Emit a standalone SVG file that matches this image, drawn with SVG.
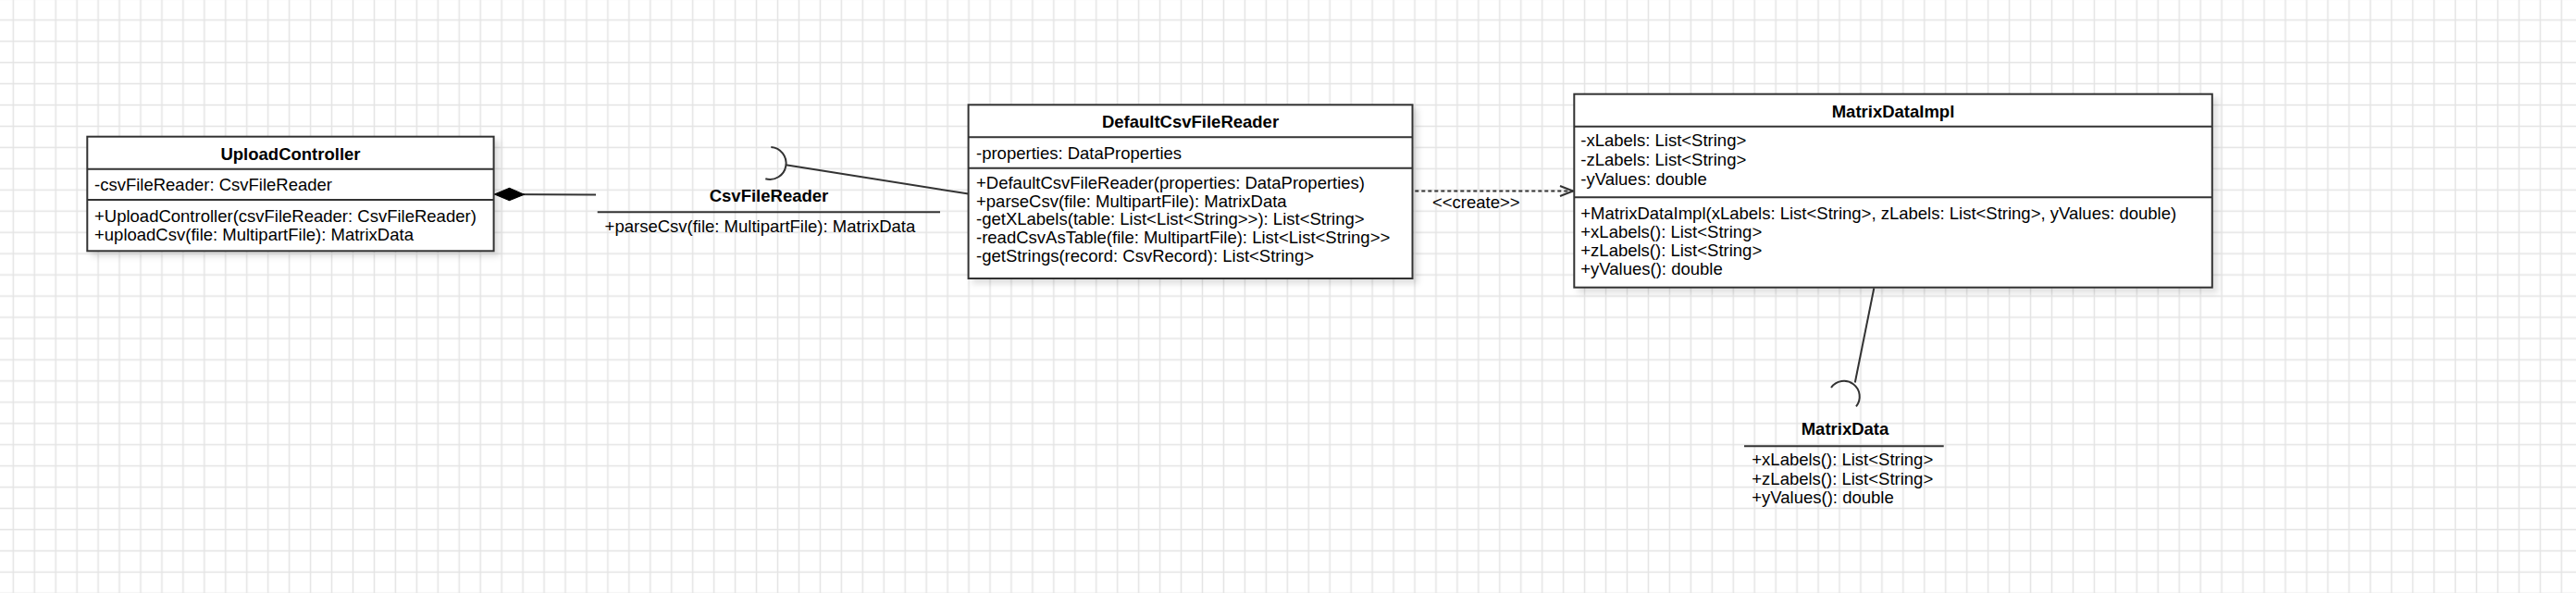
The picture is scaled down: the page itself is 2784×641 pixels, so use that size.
<svg xmlns="http://www.w3.org/2000/svg" width="2784" height="641" viewBox="0 0 2784 641">
<style>
  .t { font-family: "Liberation Sans", Arial, sans-serif; font-size: 18.5px; fill: #000; }
  .b { font-weight: bold; text-anchor: middle; }
  .box { fill: #fff; stroke: #333; stroke-width: 2; }
  .div { stroke: #333; stroke-width: 2; fill: none; }
  .ln { stroke: #333; stroke-width: 2; fill: none; }
</style>
<defs>
  <pattern id="grid" x="2.825" y="10.225" width="22.95" height="22.95" patternUnits="userSpaceOnUse">
    <path d="M11.475 0 V22.95 M0 11.475 H22.95" stroke="#e4e4e4" stroke-width="1.5" fill="none"/>
  </pattern>
  <filter id="sh" x="-5%" y="-5%" width="115%" height="125%">
    <feDropShadow dx="5" dy="5" stdDeviation="3" flood-color="#000" flood-opacity="0.12"/>
  </filter>
  <marker id="open" viewBox="0 0 16 14" refX="15" refY="7" markerWidth="16" markerHeight="14" markerUnits="userSpaceOnUse" orient="auto">
    <path d="M1 1.5 L15 7 L1 12.5" fill="none" stroke="#333" stroke-width="2"/>
  </marker>
  <marker id="diamond" viewBox="0 0 34 16" refX="1" refY="8" markerWidth="34" markerHeight="16" markerUnits="userSpaceOnUse" orient="auto">
    <path d="M1 8 L17 1.3 L33 8 L17 14.7 Z" fill="#000" stroke="#000" stroke-width="1"/>
  </marker>
</defs>
<rect x="0" y="0" width="2784" height="641" fill="#fff"/>
<rect x="0" y="0" width="2784" height="641" fill="url(#grid)"/>

<g id="connectors">
  <path class="ln" d="M534.5 210 L644 210.5" marker-start="url(#diamond)"/>
  <path class="ln" d="M849.3 178.3 L1046.6 209.5"/>
  <path class="ln" d="M833.3 159 A17.5 17.5 0 1 1 827.3 193.3"/>
  <path class="ln" d="M1529.3 206.5 L1700 206.5" stroke-dasharray="4 3" marker-end="url(#open)"/>
  <text class="t" x="1548" y="225">&lt;&lt;create&gt;&gt;</text>
  <path class="ln" d="M2025.3 311.5 L2004.8 413.5"/>
  <path class="ln" d="M1979 419 A16.9 16.9 0 1 1 2006 439.3"/>
</g>

<g id="UploadController">
  <rect class="box" x="94.3" y="147.7" width="439.3" height="123.6" filter="url(#sh)"/>
  <line class="div" x1="94.3" y1="182.7" x2="533.6" y2="182.7"/>
  <line class="div" x1="94.3" y1="216" x2="533.6" y2="216"/>
  <text class="t b" x="314" y="173.3">UploadController</text>
  <text class="t" x="102" y="206">-csvFileReader: CsvFileReader</text>
  <text class="t" x="102" y="240">+UploadController(csvFileReader: CsvFileReader)</text>
  <text class="t" x="102" y="259.5">+uploadCsv(file: MultipartFile): MatrixData</text>
</g>

<g id="CsvFileReader">
  <text class="t b" x="831" y="218.3">CsvFileReader</text>
  <line class="div" x1="645.7" y1="229.3" x2="1016" y2="229.3"/>
  <text class="t" x="653.6" y="251">+parseCsv(file: MultipartFile): MatrixData</text>
</g>

<g id="DefaultCsvFileReader">
  <rect class="box" x="1046.6" y="113.3" width="479.9" height="187.7" filter="url(#sh)"/>
  <line class="div" x1="1046.6" y1="148.3" x2="1526.5" y2="148.3"/>
  <line class="div" x1="1046.6" y1="181.7" x2="1526.5" y2="181.7"/>
  <text class="t b" x="1286.5" y="138.3">DefaultCsvFileReader</text>
  <text class="t" x="1055" y="171.7">-properties: DataProperties</text>
  <text class="t" x="1055" y="204">+DefaultCsvFileReader(properties: DataProperties)</text>
  <text class="t" x="1055" y="223.5">+parseCsv(file: MultipartFile): MatrixData</text>
  <text class="t" x="1055" y="243.2">-getXLabels(table: List&lt;List&lt;String&gt;&gt;): List&lt;String&gt;</text>
  <text class="t" x="1055" y="262.9">-readCsvAsTable(file: MultipartFile): List&lt;List&lt;String&gt;&gt;</text>
  <text class="t" x="1055" y="282.6">-getStrings(record: CsvRecord): List&lt;String&gt;</text>
</g>

<g id="MatrixDataImpl">
  <rect class="box" x="1701.3" y="101.7" width="689.5" height="209" filter="url(#sh)"/>
  <line class="div" x1="1701.3" y1="136.7" x2="2390.8" y2="136.7"/>
  <line class="div" x1="1701.3" y1="213.3" x2="2390.8" y2="213.3"/>
  <text class="t b" x="2046" y="126.7">MatrixDataImpl</text>
  <text class="t" x="1708.3" y="158.3">-xLabels: List&lt;String&gt;</text>
  <text class="t" x="1708.3" y="179.3">-zLabels: List&lt;String&gt;</text>
  <text class="t" x="1708.3" y="200.3">-yValues: double</text>
  <text class="t" x="1708.3" y="236.7">+MatrixDataImpl(xLabels: List&lt;String&gt;, zLabels: List&lt;String&gt;, yValues: double)</text>
  <text class="t" x="1708.3" y="256.7">+xLabels(): List&lt;String&gt;</text>
  <text class="t" x="1708.3" y="276.7">+zLabels(): List&lt;String&gt;</text>
  <text class="t" x="1708.3" y="296.9">+yValues(): double</text>
</g>

<g id="MatrixData">
  <text class="t b" x="1994" y="470">MatrixData</text>
  <line class="div" x1="1885" y1="482.3" x2="2100.7" y2="482.3"/>
  <text class="t" x="1893.3" y="503">+xLabels(): List&lt;String&gt;</text>
  <text class="t" x="1893.3" y="523.5">+zLabels(): List&lt;String&gt;</text>
  <text class="t" x="1893.3" y="544">+yValues(): double</text>
</g>
</svg>
